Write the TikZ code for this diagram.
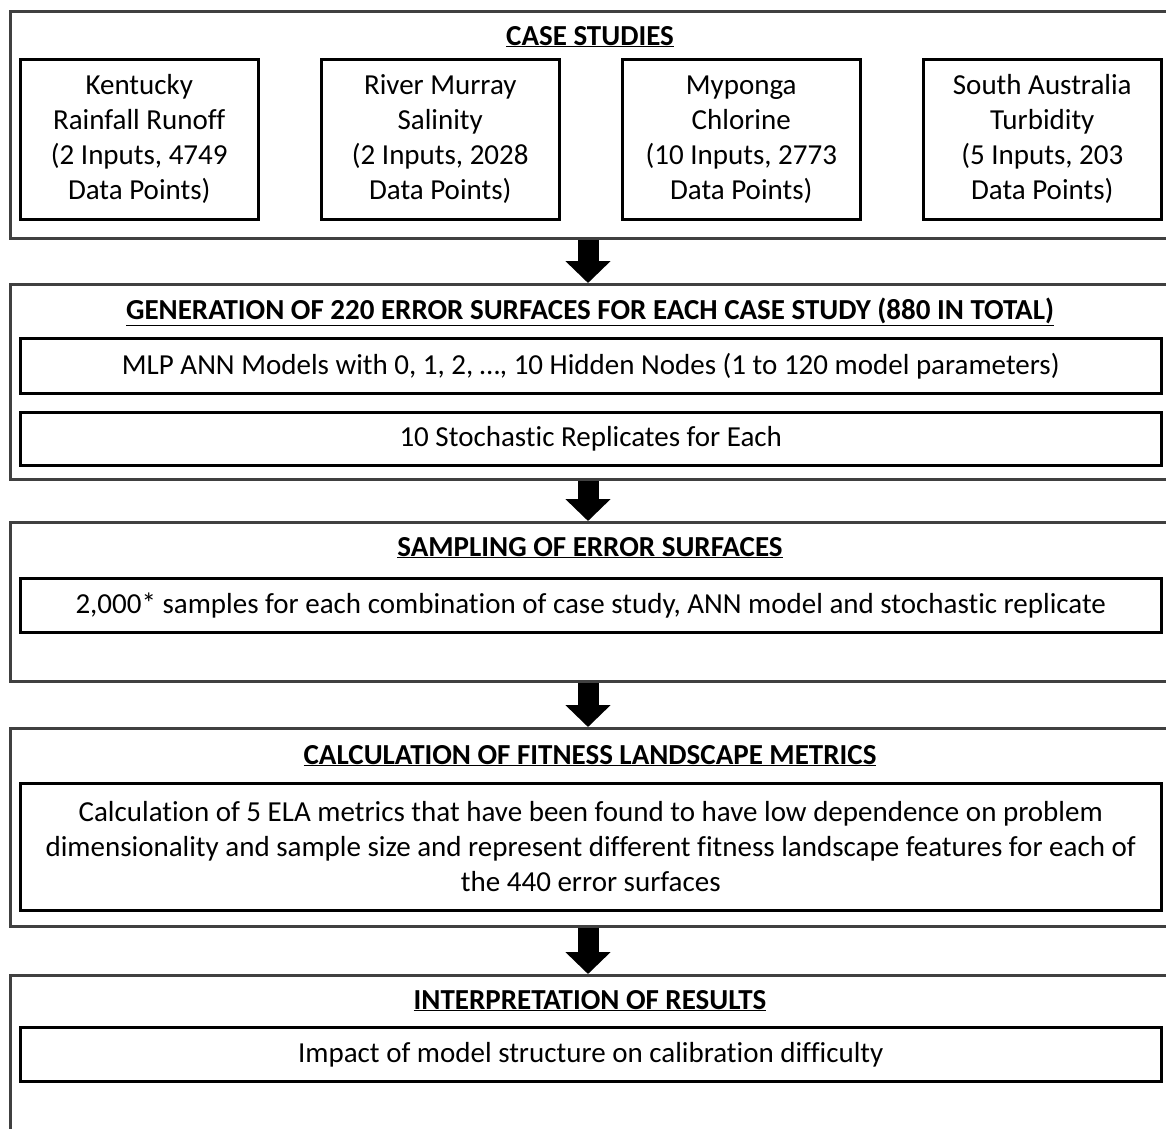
\documentclass[tikz,border=0pt]{standalone}
\usepackage{fontspec}
\setmainfont{Carlito}[Ligatures={NoCommon}]
\usetikzlibrary{arrows.meta}
\begin{document}
\begin{tikzpicture}[x=1pt,y=-1pt,
  outerbox/.style={draw=black!75,line width=3pt,anchor=north west,inner sep=0pt},
  innerbox/.style={draw=black,line width=2.5pt,anchor=north west,inner sep=0pt,
    align=center,font=\fontsize{29}{35}\selectfont},
  casebox/.style={innerbox,minimum width=238pt,minimum height=160pt},
  widebox/.style={innerbox,minimum width=1141pt},
  heading/.style={font=\bfseries\fontsize{29}{35}\selectfont,anchor=base,inner sep=0pt},
  blockarrow/.style={line width=21pt,-{Triangle[width=44pt,length=22pt]}}]
\clip (0,0) rectangle (1166,1128);
\fill[white] (0,0) rectangle (1166,1128);

% stage frames
\node[outerbox,minimum width=1170pt,minimum height=227pt] (b1) at (9,10) {};
\node[outerbox,minimum width=1170pt,minimum height=195pt] (b2) at (9,283) {};
\node[outerbox,minimum width=1170pt,minimum height=159pt] (b3) at (9,521) {};
\node[outerbox,minimum width=1170pt,minimum height=198pt] (b4) at (9,727) {};
\node[outerbox,minimum width=1170pt,minimum height=170pt] (b5) at (9,974) {};

% headings
\node[heading] (h1) at (590,45) {\underline{CASE STUDIES}};
\node[heading] (h2) at (590,319) {\underline{GENERATION OF 220 ERROR SURFACES FOR EACH CASE STUDY (880 IN TOTAL)}};
\node[heading] (h3) at (590,556) {\underline{SAMPLING OF ERROR SURFACES}};
\node[heading] (h4) at (590,764) {\underline{CALCULATION OF FITNESS LANDSCAPE METRICS}};
\node[heading] (h5) at (590,1009) {\underline{INTERPRETATION OF RESULTS}};

% case studies
\node[casebox] (c1) at (19,58) {Kentucky\\Rainfall Runoff\\(2 Inputs, 4749\\Data Points)};
\node[casebox] (c2) at (320,58) {River Murray\\Salinity\\(2 Inputs, 2028\\Data Points)};
\node[casebox] (c3) at (621,58) {Myponga\\Chlorine\\(10 Inputs, 2773\\Data Points)};
\node[casebox] (c4) at (922,58) {South Australia\\Turbidity\\(5 Inputs, 203\\Data Points)};

% content boxes
\node[widebox,minimum height=55pt] (g1) at (19,337) {MLP ANN Models with 0, 1, 2, \dots, 10 Hidden Nodes (1 to 120 model parameters)};
\node[widebox,minimum height=53pt] (g2) at (19,411) {10 Stochastic Replicates for Each};
\node[widebox,minimum height=54pt] (s1) at (19,577) {2,000* samples for each combination of case study, ANN model and stochastic replicate};
\node[widebox,minimum height=127pt] (m1) at (19,782) {Calculation of 5 ELA metrics that have been found to have low dependence on problem\\dimensionality and sample size and represent different fitness landscape features for each of\\the 440 error surfaces};
\node[widebox,minimum height=54pt] (r1) at (19,1026) {Impact of model structure on calibration difficulty};

% flow arrows
\coordinate (ax) at (588,0);
\draw[blockarrow] (ax |- b1.south) -- (ax |- b2.north);
\draw[blockarrow] (ax |- b2.south) -- (ax |- b3.north);
\draw[blockarrow] (ax |- b3.south) -- (ax |- b4.north);
\draw[blockarrow] (ax |- b4.south) -- (ax |- b5.north);
\end{tikzpicture}
\end{document}
